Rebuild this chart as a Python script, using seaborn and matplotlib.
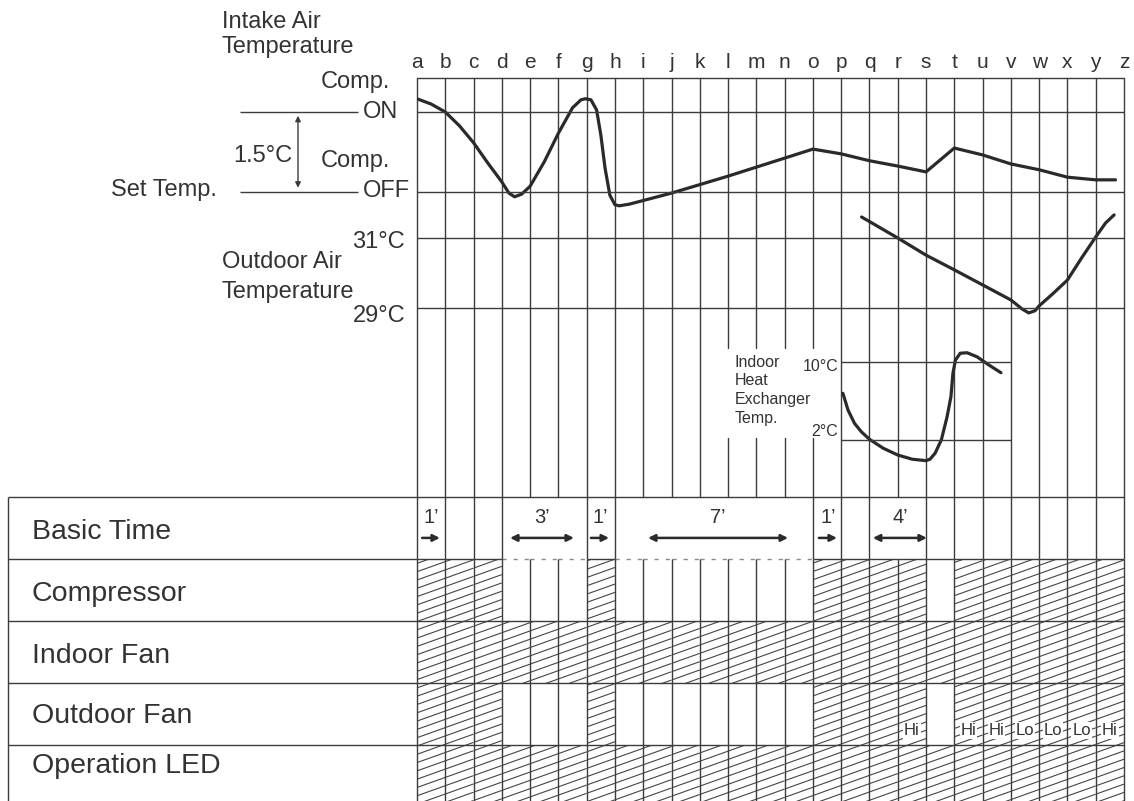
import numpy as np
import matplotlib
matplotlib.use("Agg")
import matplotlib.pyplot as plt
import seaborn as sns
from matplotlib.collections import LineCollection
from matplotlib.patches import Rectangle

# ==========================================================
# DATA (time in grid steps a=0 .. z=25)
# ==========================================================

letters = list("abcdefghijklmnopqrstuvwxyz")

# intake air temperature, degC above the set temperature (Comp. ON = +1.5)
intake_t = [0.0, 0.5, 1.0, 1.5, 2.0, 2.5, 3.0, 3.25, 3.45, 3.7, 4.0, 4.5, 5.0,
            5.5, 5.8, 5.95, 6.15, 6.35, 6.5, 6.65, 6.82, 7.0, 7.15, 7.5, 9.0,
            11.0, 13.0, 14.0, 15.0, 16.0, 17.0, 18.0, 19.0, 20.0, 21.0, 22.0,
            23.0, 24.0, 24.7]
intake_dt = [1.75, 1.65, 1.50, 1.24, 0.92, 0.54, 0.18, -0.03, -0.10, -0.05,
             0.10, 0.56, 1.10, 1.58, 1.73, 1.75, 1.73, 1.54, 1.07, 0.44,
             -0.07, -0.25, -0.27, -0.24, -0.03, 0.29, 0.63, 0.80, 0.71, 0.58,
             0.48, 0.37, 0.82, 0.69, 0.52, 0.41, 0.27, 0.22, 0.22]

# outdoor air temperature, degC
outdoor_t = [15.72, 16.0, 17.0, 18.0, 19.0, 20.0, 21.0, 21.4, 21.63, 21.85,
             22.0, 22.5, 23.0, 23.5, 24.0, 24.35, 24.65]
outdoor_temp = [31.6, 31.47, 31.0, 30.51, 30.09, 29.66, 29.23, 28.97, 28.86,
                28.92, 29.06, 29.42, 29.8, 30.43, 31.03, 31.43, 31.66]

# indoor heat exchanger temperature, degC
hx_t = [15.06, 15.24, 15.47, 15.71, 16.0, 16.49, 17.0, 17.51, 18.0, 18.14,
        18.32, 18.54, 18.74, 18.88, 18.95, 19.04, 19.21, 19.45, 19.8, 20.22,
        20.65]
hx_temp = [6.79, 5.08, 3.71, 2.85, 2.07, 1.15, 0.46, 0.03, -0.12, 0.03, 0.64,
           2.0, 4.33, 6.44, 8.84, 10.2, 10.9, 10.95, 10.54, 9.7, 8.9]

row_labels = ["Basic Time", "Compressor", "Indoor Fan", "Outdoor Fan",
              "Operation LED"]

# one flag per grid step a-b .. y-z (1 = running / hatched)
compressor_on = [1, 1, 1, 0, 0, 0, 1, 0, 0, 0, 0, 0, 0, 0, 1, 1, 1, 1, 0, 1,
                 1, 1, 1, 1, 1]
indoor_fan_on = [1, 1, 1, 1, 1, 1, 1, 1, 1, 1, 1, 1, 1, 1, 1, 1, 1, 1, 1, 1,
                 1, 1, 1, 1, 1]
outdoor_fan_on = [1, 1, 1, 0, 0, 0, 1, 0, 0, 0, 0, 0, 0, 0, 1, 1, 1, 1, 0, 1,
                  1, 1, 1, 1, 1]
led_on = [1, 1, 1, 1, 1, 1, 1, 1, 1, 1, 1, 1, 1, 1, 1, 1, 1, 1, 1, 1, 1, 1,
          1, 1, 1]

fan_speed_cols = [17, 19, 20, 21, 22, 23, 24]
fan_speed_labels = ["Hi", "Hi", "Hi", "Lo", "Lo", "Lo", "Hi"]

basic_time_labels = ["1’", "3’", "1’", "7’", "1’", "4’"]
basic_time_start = [0.18, 3.29, 6.15, 8.17, 14.21, 16.12]
basic_time_end = [0.81, 5.55, 6.79, 13.12, 14.85, 18.03]
basic_time_both = [False, True, False, True, False, True]
basic_time_lines = [0, 1, 2, 3, 6, 7, 14, 15, 16, 18, 19, 20, 21, 22, 23, 24, 25]

# ==========================================================
# LAYOUT (pixels of the reference picture)
# ==========================================================

W, H = 1134, 801
GL, GR = 417, 1124          # column lines a .. z
TOP, MID, BOT = 78, 497, 801
STEP = (GR - GL) / 25
ROW = 62
INK = "#333333"
LINE = "#3c3c3c"
HATCH = "#454545"
LW = 1.0

sns.set_theme(style="white")
plt.rcParams["font.family"] = ["Liberation Sans", "DejaVu Sans"]
plt.rcParams["text.color"] = INK

fig = plt.figure(figsize=(W / 100, H / 100), dpi=100)


def fx(px):
    return px / W


def fy(py):
    return 1 - py / H


def gx(px):
    return (px - GL) / STEP


def ftext(x, y, s, size=17, ha="left", va="baseline"):
    fig.text(fx(x), fy(y), s, fontsize=size, ha=ha, va=va, color=INK)


# ==========================================================
# UPPER PANEL: TEMPERATURE CURVES
# ==========================================================

ax = fig.add_axes([fx(GL), fy(MID), (GR - GL) / W, (MID - TOP) / H])
ax_in = ax.twinx()
ax_out = ax.twinx()
ax_hx = ax.twinx()


def set_scale(a, v1, p1, v2, p2):
    k = (v2 - v1) / (p2 - p1)
    a.set_ylim(v1 + k * (MID - p1), v1 + k * (TOP - p1))


curve_kw = dict(color="#2a2a2a", linewidth=2.3, estimator=None, sort=False,
                solid_joinstyle="round", solid_capstyle="round")
sns.lineplot(x=intake_t, y=intake_dt, ax=ax_in, **curve_kw)
sns.lineplot(x=outdoor_t, y=outdoor_temp, ax=ax_out, **curve_kw)
sns.lineplot(x=hx_t, y=hx_temp, ax=ax_hx, **curve_kw)

set_scale(ax_in, 1.5, 112, 0.0, 191.5)
set_scale(ax_out, 31, 238, 29, 308)
set_scale(ax_hx, 10, 362, 2, 440)
ax.set_ylim(0, 1)
ax.set_xlim(0, 25)


def fr(py):
    return (MID - py) / (MID - TOP)


# vertical grid, broken behind the heat exchanger label
for c in range(26):
    if c in (11, 12, 13, 14):
        ax.plot([c, c], [0, fr(438)], color=LINE, lw=LW, clip_on=False)
        ax.plot([c, c], [fr(348), 1], color=LINE, lw=LW, clip_on=False)
    else:
        ax.plot([c, c], [0, 1], color=LINE, lw=LW, clip_on=False)
ax.plot([0, 25], [1, 1], color=LINE, lw=LW, clip_on=False)

ax_in.hlines([1.5, 0.0], 0, 25, color=LINE, lw=LW)
ax_in.hlines([1.5, 0.0], gx(240), gx(358), color=LINE, lw=LW, clip_on=False)
ax_in.annotate("", xy=(gx(298), 0.07), xytext=(gx(298), 1.43),
               arrowprops=dict(arrowstyle="<|-|>", color=LINE, lw=1.0,
                               mutation_scale=8, shrinkA=0, shrinkB=0),
               annotation_clip=False)
ax_out.hlines([31, 29], 0, 25, color=LINE, lw=LW)
ax_hx.hlines([10, 2], 15, 21, color=LINE, lw=LW)

for a in (ax_in, ax_out, ax_hx):
    a.axis("off")
for s in ax.spines.values():
    s.set_visible(False)
ax.set_yticks([])
ax.set_xticks(range(26))
ax.set_xticklabels(letters)
ax.tick_params(axis="x", top=True, bottom=False, labeltop=True,
               labelbottom=False, length=0, pad=4.5, labelsize=15,
               labelcolor=INK)

ftext(222, 28, "Intake Air")
ftext(222, 53, "Temperature")
ftext(390, 88, "Comp.", ha="right")
ftext(363, 118, "ON")
ftext(233, 162, "1.5°C")
ftext(390, 167, "Comp.", ha="right")
ftext(217, 196, "Set Temp.", ha="right")
ftext(363, 197, "OFF")
ftext(405, 248, "31°C", ha="right")
ftext(222, 268, "Outdoor Air")
ftext(222, 298, "Temperature")
ftext(405, 322, "29°C", ha="right")
for txt, base in zip(["Indoor", "Heat", "Exchanger", "Temp."],
                     [367, 385, 404, 423]):
    ftext(735, base, txt, size=11.5)
ftext(838, 371, "10°C", size=11.5, ha="right")
ftext(838, 436, "2°C", size=11.5, ha="right")

# ==========================================================
# LOWER PANEL: OPERATION TABLE
# ==========================================================

ax_t = fig.add_axes([fx(8), 0, (GR - 8) / W, (BOT - MID) / H])
x_left = gx(8)
y_max = (BOT - MID) / ROW
ax_t.set_xlim(x_left, 25)
ax_t.set_ylim(y_max, 0)
ax_t.axis("off")

SLOPE = 0.357 * STEP / ROW
DC = 8.3 / ROW


def hatch(col, row):
    rect = Rectangle((col, row), 1, 1, transform=ax_t.transData)
    lo = row + SLOPE * col
    hi = row + 1 + SLOPE * (col + 1)
    cs = np.arange(np.ceil(lo / DC), np.floor(hi / DC) + 1) * DC
    segs = [[(col, c - SLOPE * col), (col + 1, c - SLOPE * (col + 1))]
            for c in cs]
    lc = LineCollection(segs, colors=HATCH, linewidths=0.8)
    ax_t.add_collection(lc, autolim=False)
    lc.set_clip_path(rect)


for r, states in enumerate([compressor_on, indoor_fan_on, outdoor_fan_on,
                            led_on], start=1):
    for col, on in enumerate(states):
        if on:
            hatch(col, r)

# row borders
ax_t.hlines([0, 2, 3, 4], x_left, 25, color=LINE, lw=LW, clip_on=False)
ax_t.hlines(1, x_left, 0, color=LINE, lw=LW)
for col in range(25):
    merged = not (col in basic_time_lines and col + 1 in basic_time_lines)
    dashed = merged and not compressor_on[col]
    ax_t.hlines(1, col, col + 1, color=LINE if not dashed else "#8a8a8a",
                lw=LW, linestyles=(0, (3, 5)) if dashed else "solid")

# column borders
ax_t.vlines(basic_time_lines, 0, 1, color=LINE, lw=LW, clip_on=False)
ax_t.vlines(range(26), 1, y_max, color=LINE, lw=LW, clip_on=False)
ax_t.vlines(x_left, 0, y_max, color=LINE, lw=LW, clip_on=False)

for label, yb in zip(row_labels, [0.68, 1.68, 2.68, 3.65, 4.45]):
    ax_t.text(gx(32), yb, label, fontsize=20.5, va="baseline", ha="left",
              color=INK)

for lab, x0, x1, both in zip(basic_time_labels, basic_time_start,
                             basic_time_end, basic_time_both):
    ax_t.text((x0 + x1) / 2, 0.42, lab, fontsize=14.5, ha="center",
              va="baseline", color=INK)
    ax_t.annotate("", xy=(x1, 0.66), xytext=(x0, 0.66),
                  arrowprops=dict(arrowstyle="<|-|>" if both else "-|>",
                                  color="#2a2a2a", lw=1.8, mutation_scale=10,
                                  shrinkA=0, shrinkB=0))

for col, lab in zip(fan_speed_cols, fan_speed_labels):
    ax_t.text(col + 0.5, 3.84, lab, fontsize=12, ha="center", va="baseline",
              color=INK, bbox=dict(facecolor="white", edgecolor="none",
                                   pad=0.6))

fig.savefig("out.png", dpi=100, facecolor="white")
